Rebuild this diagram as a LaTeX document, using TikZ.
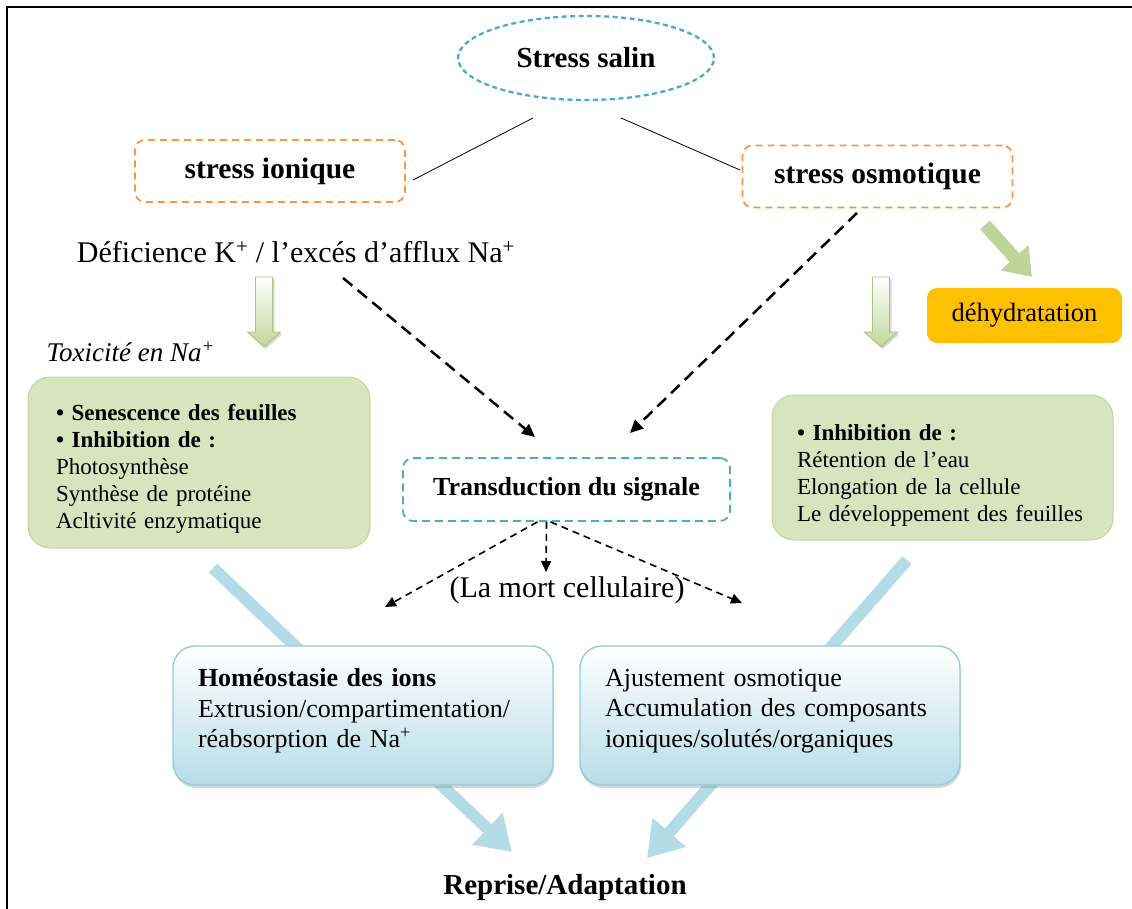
\documentclass[tikz,border=0pt]{standalone}
\usepackage{fontspec}
\setmainfont{Liberation Serif}
\usepackage{xcolor}
\usepackage{tikz}
\usetikzlibrary{arrows.meta,positioning,shapes.geometric,shadows,backgrounds,calc}
\definecolor{CyanLine}{HTML}{4BACC6}
\definecolor{OrangeLine}{HTML}{F79646}
\definecolor{LeafFill}{HTML}{D7E4BD}
\definecolor{LeafLine}{HTML}{C3D69B}
\definecolor{LeafEdge}{HTML}{A9C47A}
\definecolor{LeafArrow}{HTML}{BFD598}
\definecolor{SkyFill}{HTML}{B7DDE8}
\definecolor{SkyLine}{HTML}{92CDDC}
\definecolor{SkyArrow}{HTML}{B4DCE6}
\definecolor{Amber}{HTML}{FFC000}
\tikzset{
  rootellipse/.style={draw=CyanLine,ellipse,line width=2.3pt,dash pattern=on 5pt off 3.5pt,minimum width=256pt,minimum height=84pt,font=\fontsize{29}{32}\selectfont\bfseries},
  stressbox/.style={draw=OrangeLine,line width=1.8pt,dash pattern=on 7pt off 5pt,rounded corners=10pt,minimum width=270pt,minimum height=62pt,font=\fontsize{29.5}{32}\selectfont\bfseries},
  signalbox/.style={draw=CyanLine,line width=1.8pt,dash pattern=on 8pt off 5pt,rounded corners=10pt,minimum width=327pt,minimum height=63pt,font=\fontsize{26}{30}\selectfont\bfseries},
  leafbox/.style={draw=LeafLine,fill=LeafFill,line width=1pt,rounded corners=22pt,inner xsep=0pt,align=left,font=\fontsize{23}{27}\selectfont},
  skybox/.style={draw=SkyLine,line width=1.4pt,top color=white,bottom color=SkyFill,rounded corners=22pt,drop shadow={opacity=0.3,shadow xshift=1pt,shadow yshift=-3pt},minimum width=380pt,minimum height=139pt,inner xsep=0pt,text width=330pt,text depth=76pt,align=left,font=\fontsize{26}{30.5}\selectfont},
  amberbox/.style={fill=Amber,rounded corners=10pt,minimum width=195pt,minimum height=55pt,font=\fontsize{26.5}{30}\selectfont},
  hollowarrow/.style={draw=LeafEdge,line width=0.9pt,top color=white,bottom color=LeafLine,drop shadow={opacity=0.3,shadow xshift=2pt,shadow yshift=-2pt}},
  plain/.style={font=\fontsize{30}{34}\selectfont},
  bigdash/.style={-{Triangle[length=13pt,width=12pt]},line width=2.5pt,dash pattern=on 12pt off 7pt},
  smalldash/.style={-{Triangle[length=11pt,width=10pt]},line width=1.6pt,dash pattern=on 7pt off 5pt},
  leafarrow/.style={-{Triangle[length=26pt,width=36pt]},line width=13pt,color=LeafArrow},
  skyarrow/.style={-{Triangle[length=34pt,width=42pt]},line width=12pt,color=SkyArrow},
  thin/.style={line width=0.8pt}
}
\begin{document}
\begin{tikzpicture}[x=1pt,y=-1pt]
  \useasboundingbox (0,0) rectangle (1132,909);
  \draw[line width=2.5pt] (7,909) -- (7,7) -- (1132,7);
  \node[rootellipse] (salin) at (586,58) {Stress salin};
  \node[stressbox] (ionique) at (270,171) {stress ionique};
  \node[stressbox] (osmo) at (877.5,176.5) {stress osmotique};
  \node[plain] (defic) at (296,252) {Déficience K\textsuperscript{+} / l’excés d’afflux Na\textsuperscript{+}};
  \node[anchor=west,font=\fontsize{27}{30}\selectfont\itshape] (toxic) at (43,352) {Toxicité en Na\textsuperscript{+}};
  \node[leafbox,minimum width=342pt,minimum height=171pt,text width=286pt,text depth=101pt] (leafL) at (199,462.5) {\textbf{• Senescence des feuilles}\\\textbf{• Inhibition de :}\\Photosynthèse\\Synthèse de protéine\\Acltivité enzymatique};
  \node[leafbox,minimum width=341pt,minimum height=145pt,text width=291pt,text depth=69pt] (leafR) at (942.5,467.5) {\textbf{• Inhibition de :}\\Rétention de l’eau\\Elongation de la cellule\\\makebox[285pt][s]{Le développement des feuilles}};
  \node[amberbox] (dehyd) at (1024.5,315.5) {déhydratation};
  \node[signalbox] (trans) at (566.5,489.5) {Transduction du signale};
  \node[plain] (mort) at (567,590) {(La mort cellulaire)};
  \node[skybox] (homeo) at (363,715.5) {\textbf{Homéostasie des ions}\\Extrusion/compartimentation/\\réabsorption de Na\textsuperscript{+}};
  \node[skybox] (ajust) at (770,715.5) {Ajustement osmotique\\\makebox[325pt][s]{Accumulation des composants}\\ioniques/solutés/organiques};
  \node[font=\fontsize{29}{32}\selectfont\bfseries] (reprise) at (565,888) {Reprise/Adaptation};
  \coordinate (salinL) at (533,118);
  \coordinate (salinR) at (621,118);
  \coordinate (ioniqueR) at (413,180);
  \coordinate (osmoL) at (740,170);
  \coordinate (deficD) at (343,278);
  \coordinate (transL) at (535,437);
  \coordinate (osmoD) at (857,213);
  \coordinate (transR) at (630,433);
  \coordinate (dehydA) at (985,225);
  \coordinate (dehydB) at (1032,277);
  \coordinate (mortL) at (385,607);
  \coordinate (mortC) at (546,572);
  \coordinate (mortR) at (742,603);
  \coordinate (leafLB) at (213,568);
  \coordinate (leafRB) at (907,560);
  \coordinate (repriseL) at (512,852);
  \coordinate (repriseR) at (647,858);
  \coordinate (arrLtop) at (264,277);
  \coordinate (arrLtip) at (264,347);
  \coordinate (arrRtop) at (881,277);
  \coordinate (arrRtip) at (881,347);
  \foreach \a in {arrL,arrR} {
    \draw[hollowarrow] ($(\a top)+(-8.5,0)$) -- ($(\a top)+(8.5,0)$) -- ($(\a tip)+(8.5,-15)$) -- ($(\a tip)+(16.5,-15)$)
      -- (\a tip) -- ($(\a tip)+(-16.5,-15)$) -- ($(\a tip)+(-8.5,-15)$) -- cycle;
  }
  \draw[thin] (salinL) -- (ioniqueR);
  \draw[thin] (salinR) -- (osmoL);
  \draw[bigdash] (deficD) -- (transL);
  \draw[bigdash] (osmoD) -- (transR);
  \draw[leafarrow] (dehydA) -- (dehydB);
  \draw[smalldash] ([xshift=-29pt]trans.south) -- (mortL);
  \draw[smalldash] ([xshift=-20pt]trans.south) -- (mortC);
  \draw[smalldash] ([xshift=-16pt]trans.south) -- (mortR);
  \begin{scope}[on background layer]
    \draw[skyarrow] (leafLB) -- (repriseL);
    \draw[skyarrow] (leafRB) -- (repriseR);
  \end{scope}
\end{tikzpicture}
\end{document}
